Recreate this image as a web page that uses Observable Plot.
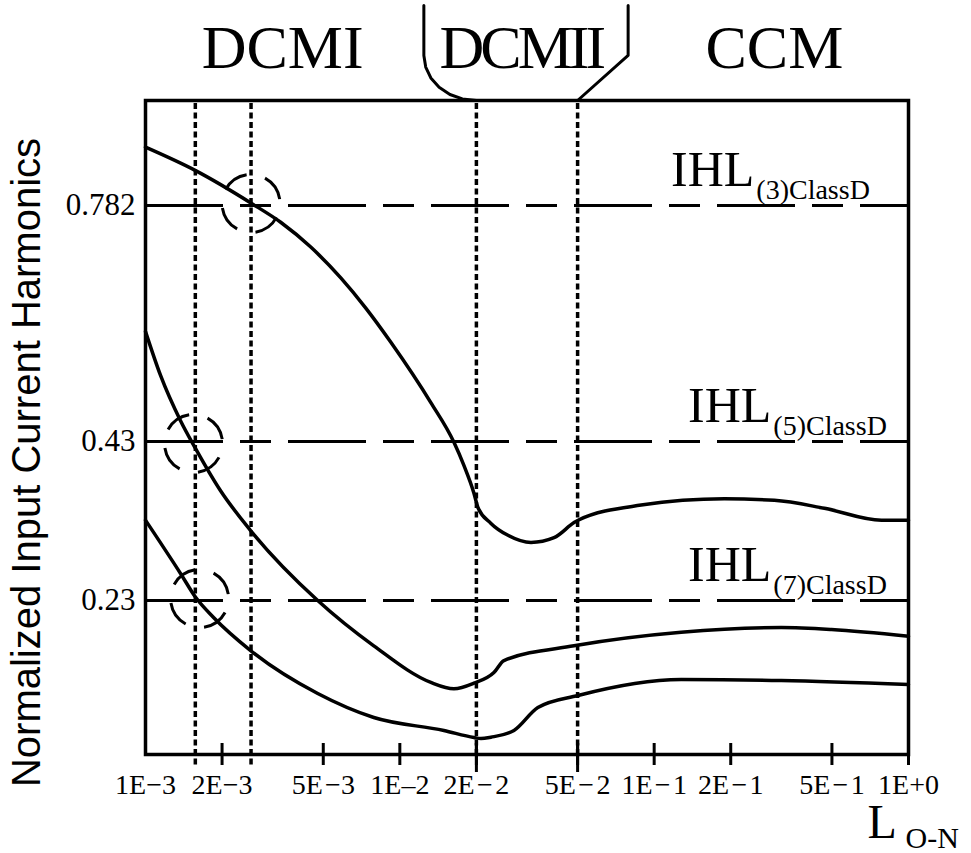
<!DOCTYPE html>
<html><head><meta charset="utf-8">
<script src="https://cdn.jsdelivr.net/npm/d3@7"></script>
<script src="https://cdn.jsdelivr.net/npm/@observablehq/plot@0.6"></script>
<style>body{margin:0;background:#fff}</style>
</head><body><div id="chart"></div>
<script>
// ---- axis ticks ----
const xTicks = [0.001, 0.002, 0.005, 0.01, 0.02, 0.05, 0.1, 0.2, 0.5, 1];
const xTickLabels = ["1E\u22123", "2E\u22123", "5E\u200A\u22123", "1E\u20132", "2E\u200A\u2212\u200A2", "5E\u200A\u2212\u200A2", "1E\u200A\u2212\u200A1", "2E\u200A\u2212\u200A1", "5E\u200A\u2212\u200A1", "1E+0"];
const yTicks = [0.782, 0.43, 0.23];
const yTickLabels = ["0.782", "0.43", "0.23"];
const yDomain = [0.0363, 0.23, 0.43, 0.782, 0.9387];

// ---- limits (IEC Class D) ----
const limitSubs = ["(3)ClassD", "(5)ClassD", "(7)ClassD"];
const limitLabelL = [0.2476, 0.2888, 0.2888];

// ---- mode boundaries & labels ----
const boundariesExt = [0.00157, 0.0026];
const boundaries = [0.02, 0.05];
const modeLabels = ["DCMI", "DCMII", "CCM"];
const modeLabelL = [0.00346, 0.0299, 0.297];

// ---- intersection markers ----
const markL = [0.0026, 0.001545, 0.001632];
const markV = [0.785, 0.4275, 0.2325];

// ---- 3rd harmonic ----
const h3L = [0.001, 0.001574, 0.002614, 0.0034, 0.004464, 0.00586, 0.007348, 0.00922, 0.01324, 0.01632, 0.01786, 0.01956, 0.02028, 0.02282, 0.02662, 0.03279, 0.04039, 0.04842, 0.0502, 0.0889, 0.1887, 0.2969, 0.467, 0.783, 1];
const h3V = [0.869, 0.834, 0.785, 0.757, 0.720, 0.674, 0.629, 0.578, 0.488, 0.429, 0.400, 0.365, 0.347, 0.327, 0.312, 0.303, 0.309, 0.328, 0.331, 0.350, 0.358, 0.356, 0.346, 0.331, 0.331];
// ---- 5th harmonic ----
const h5L = [0.001, 0.001146, 0.001373, 0.001574, 0.001973, 0.00259, 0.004755, 0.0079, 0.01324, 0.01632, 0.01956, 0.02344, 0.02567, 0.04842, 0.1277, 0.316, 0.498, 1];
const h5V = [0.594, 0.5285, 0.461, 0.421, 0.368, 0.318, 0.230, 0.173, 0.127, 0.119, 0.126, 0.1394, 0.1545, 0.173, 0.190, 0.196, 0.1935, 0.185];
// ---- 7th harmonic ----
const h7L = [0.001, 0.001373, 0.001574, 0.001852, 0.00259, 0.004755, 0.0079, 0.0149, 0.01956, 0.02084, 0.02282, 0.0281, 0.0349, 0.0502, 0.1277, 0.316, 1];
const h7V = [0.331, 0.264, 0.234, 0.2086, 0.167, 0.113, 0.0828, 0.0665, 0.0577, 0.0564, 0.0581, 0.0665, 0.0954, 0.1105, 0.1306, 0.1294, 0.1243];

// ---- DCMII bracket annotation ----
const brLeftL = [0.01243, 0.01243, 0.01264, 0.01324, 0.01427, 0.01574, 0.01762, 0.02];
const brLeftV = [1.0805, 1.0059, 0.9886, 0.9723, 0.9584, 0.9477, 0.9410, 0.9387];
const brRightL = [0.079, 0.079, 0.05];
const brRightV = [1.0805, 1.0059, 0.9387];

const zip = (xs, ys) => xs.map((x, i) => ({x, y: ys[i]}));
const serif = "Liberation Serif";
const lineStyle = {x: "x", y: "y", stroke: "black", strokeWidth: 3.5, curve: "monotone-x"};

const plot = Plot.plot({
  width: 971,
  height: 853,
  marginLeft: 145,
  marginRight: 63,
  marginTop: 100,
  marginBottom: 99,
  style: {fontFamily: serif, background: "white", color: "black"},
  x: {type: "log", domain: [0.001, 1], label: null, axis: null},
  y: {type: "linear", domain: yDomain, range: [754, 600, 441, 205, 100], label: null, axis: null},
  marks: [
    Plot.ruleY(yTicks, {y: d => d, stroke: "black", strokeWidth: 3, strokeDasharray: "78 17 31 17"}),
    Plot.ruleX(boundariesExt, {x: d => d, stroke: "black", strokeWidth: 3.5, strokeDasharray: "6 3.5", insetBottom: -11, insetTop: 3}),
    Plot.ruleX(boundaries, {x: d => d, stroke: "black", strokeWidth: 3.5, strokeDasharray: "6 3.5", insetTop: 3}),
    Plot.axisX(xTicks.slice(1), {tickSize: 22, insetBottom: 11, strokeWidth: 3, fill: "none", label: null}),
    Plot.axisX(boundaries, {tickSize: 29, insetBottom: 11, strokeWidth: 3, fill: "none", label: null}),
    Plot.frame({stroke: "black", strokeWidth: 3.5}),
    Plot.line(zip(h3L, h3V), lineStyle),
    Plot.line(zip(h5L, h5V), lineStyle),
    Plot.line(zip(h7L, h7V), lineStyle),
    Plot.dot(zip(markL, markV), {x: "x", y: "y", r: 29, stroke: "black", strokeWidth: 3, fill: "none", strokeDasharray: "26.5 19", strokeDashoffset: 31}),
    Plot.line(zip(brLeftL, brLeftV), {x: "x", y: "y", stroke: "black", strokeWidth: 3, curve: "linear"}),
    Plot.line(zip(brRightL, brRightV), {x: "x", y: "y", stroke: "black", strokeWidth: 3, curve: "linear"}),
    // tick labels
    Plot.text(xTicks, {x: d => d, text: xTickLabels, frameAnchor: "bottom", lineAnchor: "top", dy: 20, fontSize: 28, fill: "black"}),
    Plot.text(yTicks, {y: d => d, text: yTickLabels, frameAnchor: "left", textAnchor: "end", lineAnchor: "middle", dx: -10, fontSize: 31, fill: "black"}),
    // mode labels
    Plot.text(modeLabels, {x: modeLabelL, text: d => d, frameAnchor: "top", lineAnchor: "bottom", dy: -33, fontSize: 62, fill: "black"}),
    // limit labels
    Plot.text(yTicks, {x: limitLabelL, y: d => d, text: () => "IHL", textAnchor: "end", lineAnchor: "bottom", dy: -20, fontSize: 50, fill: "black"}),
    Plot.text(yTicks, {x: limitLabelL, y: d => d, text: limitSubs, textAnchor: "start", lineAnchor: "bottom", dx: 2, dy: -7, fontSize: 28, fill: "black"}),
    // axis titles
    Plot.text(["Normalized Input Current Harmonics"], {frameAnchor: "left", text: d => d, rotate: -90, dx: -118, dy: 35, fontSize: 40, fontFamily: "Liberation Sans", textAnchor: "middle", lineAnchor: "middle", fill: "black"}),
    Plot.text(["L"], {frameAnchor: "bottom-right", text: d => d, textAnchor: "start", lineAnchor: "bottom", dx: -41, dy: 83, fontSize: 48, fill: "black"}),
    Plot.text(["O-N"], {frameAnchor: "bottom-right", text: d => d, textAnchor: "start", lineAnchor: "bottom", dx: -3, dy: 93, fontSize: 30, fill: "black"})
  ]
});
document.getElementById("chart").appendChild(plot);
d3.select(plot).selectAll("text").filter(function() { return this.textContent === "DCMII"; }).attr("letter-spacing", -4);
</script>
</body></html>
